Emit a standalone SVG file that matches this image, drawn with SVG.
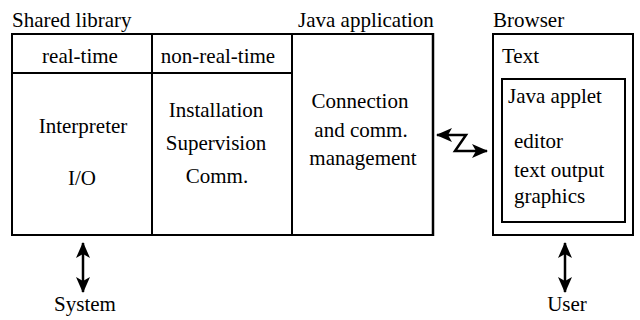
<svg xmlns="http://www.w3.org/2000/svg" width="640" height="320" viewBox="0 0 640 320">
<defs>
<marker id="ah" viewBox="0 0 16 14" refX="15" refY="7" markerWidth="16" markerHeight="14" markerUnits="userSpaceOnUse" orient="auto-start-reverse">
<path d="M0,0 L16,7 L0,14 L4,7 z" fill="#000"/>
</marker>
</defs>
<rect width="640" height="320" fill="#fff"/>
<g id="shared-library">
<line x1="12" y1="34" x2="12" y2="235" stroke="#000" stroke-width="2"/>
<line x1="11" y1="34" x2="293" y2="34" stroke="#000" stroke-width="2"/>
<line x1="11" y1="235" x2="293" y2="235" stroke="#000" stroke-width="2"/>
<line x1="12" y1="73" x2="292" y2="73" stroke="#000" stroke-width="2"/>
<text font-family="Liberation Serif" font-size="21" x="12" y="27">Shared library</text>
</g>
<g id="real-time">
<line x1="152" y1="34" x2="152" y2="235" stroke="#000" stroke-width="2"/>
<text font-family="Liberation Serif" font-size="21" x="80" y="63" text-anchor="middle">real-time</text>
<text font-family="Liberation Serif" font-size="21" x="83" y="133" text-anchor="middle">Interpreter</text>
<text font-family="Liberation Serif" font-size="21" x="82" y="185" text-anchor="middle">I/O</text>
</g>
<g id="non-real-time">
<text font-family="Liberation Serif" font-size="21" x="218" y="63" text-anchor="middle">non-real-time</text>
<text font-family="Liberation Serif" font-size="21" x="216" y="117" text-anchor="middle">Installation</text>
<text font-family="Liberation Serif" font-size="21" x="216" y="150" text-anchor="middle">Supervision</text>
<text font-family="Liberation Serif" font-size="21" x="217" y="183" text-anchor="middle">Comm.</text>
</g>
<g id="java-application">
<line x1="292" y1="34" x2="434" y2="34" stroke="#000" stroke-width="2"/>
<line x1="292" y1="34" x2="292" y2="235" stroke="#000" stroke-width="2"/>
<line x1="292" y1="235" x2="434" y2="235" stroke="#000" stroke-width="2"/>
<line x1="433" y1="33" x2="433" y2="236" stroke="#000" stroke-width="2.5"/>
<text font-family="Liberation Serif" font-size="21" x="298" y="27">Java application</text>
<text font-family="Liberation Serif" font-size="21" x="360" y="108" text-anchor="middle">Connection</text>
<text font-family="Liberation Serif" font-size="21" x="361" y="137" text-anchor="middle">and comm.</text>
<text font-family="Liberation Serif" font-size="21" x="363" y="165" text-anchor="middle">management</text>
</g>
<g id="browser">
<rect x="493" y="34" width="140" height="201" fill="none" stroke="#000" stroke-width="2"/>
<text font-family="Liberation Serif" font-size="21" x="493" y="27">Browser</text>
<text font-family="Liberation Serif" font-size="21" x="502" y="63">Text</text>
</g>
<g id="java-applet">
<rect x="502" y="79" width="123" height="143" fill="none" stroke="#000" stroke-width="2"/>
<text font-family="Liberation Serif" font-size="21" x="508" y="103">Java applet</text>
<text font-family="Liberation Serif" font-size="21" x="514" y="148">editor</text>
<text font-family="Liberation Serif" font-size="21" x="514" y="177">text output</text>
<text font-family="Liberation Serif" font-size="21" x="514" y="203">graphics</text>
</g>
<g id="system">
<text font-family="Liberation Serif" font-size="21" x="85" y="311" text-anchor="middle">System</text>
</g>
<g id="user">
<text font-family="Liberation Serif" font-size="21" x="567" y="311" text-anchor="middle">User</text>
</g>
<g id="connectors" stroke="#000" stroke-width="2.5" fill="none">
<line x1="83" y1="243" x2="83" y2="292" marker-start="url(#ah)" marker-end="url(#ah)"/>
<line x1="565" y1="243" x2="565" y2="292" marker-start="url(#ah)" marker-end="url(#ah)"/>
<polyline points="437,135 466,135 455,151 487,151" marker-start="url(#ah)" marker-end="url(#ah)"/>
</g>
</svg>
